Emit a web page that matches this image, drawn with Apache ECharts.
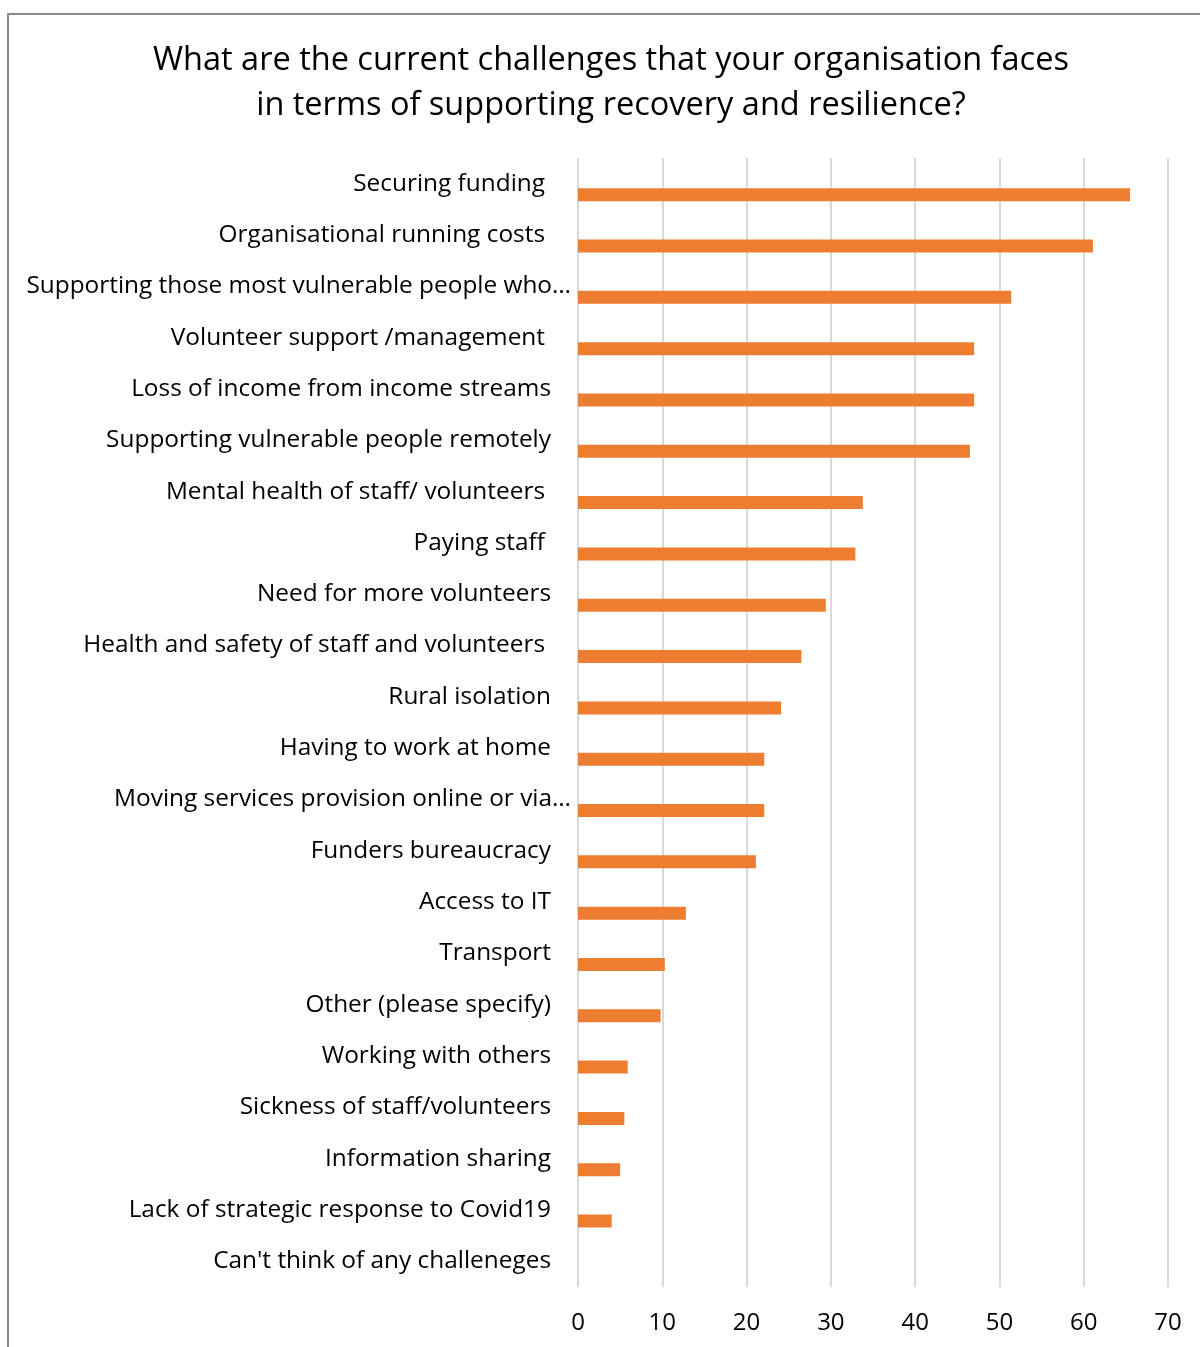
<!DOCTYPE html>
<html>
<head>
<meta charset="utf-8">
<script src="https://cdn.jsdelivr.net/npm/echarts@6/dist/echarts.min.js"></script>
<style>
  html, body { margin: 0; padding: 0; background: #fff; }
  #main { width: 1200px; height: 1347px; }
</style>
</head>
<body>
<div id="main"></div>
<script>
  // categories as they appear in the chart (trailing spaces kept from the source labels)
  var challenges = [
    "Securing funding ",
    "Organisational running costs ",
    "Supporting those most vulnerable people who…",
    "Volunteer support /management ",
    "Loss of income from income streams",
    "Supporting vulnerable people remotely",
    "Mental health of staff/ volunteers ",
    "Paying staff ",
    "Need for more volunteers",
    "Health and safety of staff and volunteers ",
    "Rural isolation",
    "Having to work at home",
    "Moving services provision online or via…",
    "Funders bureaucracy",
    "Access to IT",
    "Transport",
    "Other (please specify)",
    "Working with others",
    "Sickness of staff/volunteers",
    "Information sharing",
    "Lack of strategic response to Covid19",
    "Can't think of any challeneges"
  ];
  var responses = [65.5, 61.1, 51.4, 47.0, 47.0, 46.5, 33.8, 32.9, 29.4, 26.5, 24.1,
                   22.1, 22.1, 21.1, 12.8, 10.3, 9.8, 5.9, 5.5, 5.0, 4.0, 0];
  var emptySeries = challenges.map(function () { return null; });
  var xTicks = [0, 70, 10]; // min, max, interval

  var chart = echarts.init(document.getElementById("main"));
  chart.setOption({
    animation: false,
    backgroundColor: "#fff",
    textStyle: { fontFamily: "Open Sans" },
    title: {
      text: "What are the current challenges that your organisation faces\nin terms of supporting recovery and resilience?",
      left: 606,
      top: 33,
      textAlign: "center",
      textStyle: {
        fontFamily: "Open Sans",
        fontSize: 32.5,
        fontWeight: "normal",
        color: "#000",
        lineHeight: 45
      }
    },
    graphic: [{
      type: "rect",
      shape: { x: 8, y: 14, width: 1400, height: 1500 },
      style: { fill: "none", stroke: "#888", lineWidth: 2 },
      silent: true
    }],
    grid: { left: 578, right: 32, top: 158, bottom: 60 },
    xAxis: {
      type: "value",
      min: xTicks[0],
      max: xTicks[1],
      interval: xTicks[2],
      axisLine: { show: false },
      axisTick: { show: false },
      splitLine: { show: true, lineStyle: { color: "#d9d9d9", width: 2 } },
      axisLabel: { color: "#000", fontSize: 24, margin: 24, fontFamily: "Open Sans" }
    },
    yAxis: {
      type: "category",
      inverse: true,
      data: challenges,
      axisLine: { show: false },
      axisTick: { show: false },
      axisLabel: {
        color: "#000",
        margin: 7,
        interval: 0,
        formatter: function (v) {
          if (/…$/.test(v)) return "{t|" + v + "}";
          if (/ $/.test(v)) return "{s|" + v.trim() + "}";
          return "{n|" + v + "}";
        },
        rich: {
          t: { fontSize: 24.4, color: "#000", fontFamily: "Open Sans", padding: [0, 0, 0, 0] },
          n: { fontSize: 24.4, color: "#000", fontFamily: "Open Sans", padding: [0, 20, 0, 0] },
          s: { fontSize: 24.4, color: "#000", fontFamily: "Open Sans", padding: [0, 26, 0, 0] }
        }
      }
    },
    series: [
      {
        name: "blank",
        type: "bar",
        data: emptySeries,
        barWidth: 13,
        barGap: "70%",
        silent: true
      },
      {
        name: "Responses",
        type: "bar",
        data: responses,
        barWidth: 13,
        barGap: "70%",
        itemStyle: { color: "#ED7D31" }
      }
    ]
  });
</script>
</body>
</html>
